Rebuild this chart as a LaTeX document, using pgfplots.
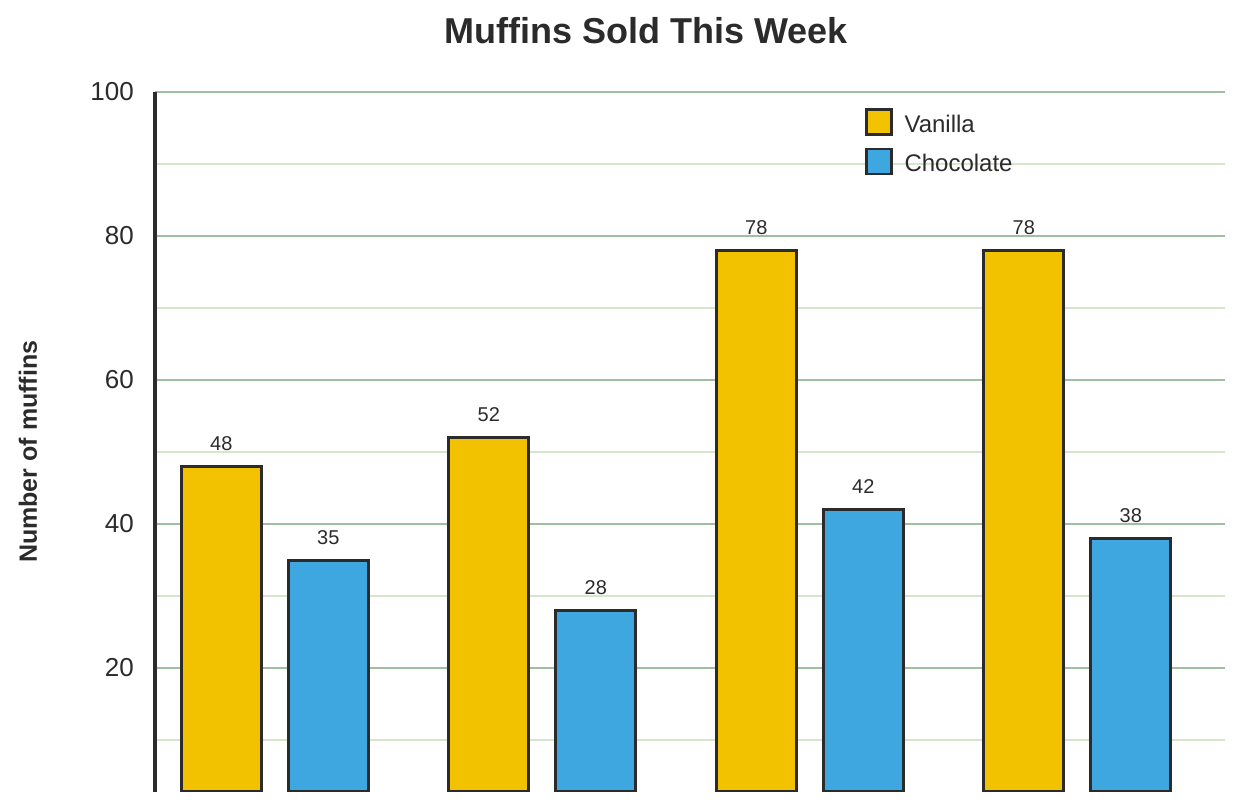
\documentclass[border=0pt]{standalone}
\usepackage{fontspec}
\setmainfont{Liberation Sans}
\usepackage{pgfplots}
\pgfplotsset{compat=1.18}
\definecolor{van}{HTML}{F2C200}
\definecolor{choc}{HTML}{3FA7DF}
\definecolor{edge}{HTML}{2B2B2B}
\definecolor{txt}{HTML}{2B2B2B}
\definecolor{majg}{HTML}{9FC09F}
\definecolor{ming}{HTML}{D4E7CD}
\begin{document}
\begin{tikzpicture}
\useasboundingbox (0,0) rectangle (1243pt,810pt);
\begin{axis}[
  at={(155pt,18pt)}, anchor=south west,
  scale only axis, width=1070pt, height=700pt,
  xmin=-0.448, xmax=3.552, ymin=2.78, ymax=100,
  axis y line=left, axis x line=none,
  y axis line style={-, line width=4pt, draw=edge},
  ytick={20,40,60,80,100}, minor ytick={10,30,50,70,90},
  ymajorgrids, yminorgrids,
  major grid style={draw=majg, line width=2.5pt},
  minor grid style={draw=ming, line width=2pt},
  major tick length=0pt, minor tick length=0pt,
  yticklabel style={font=\fontsize{26}{30}\selectfont, text=txt, inner sep=0pt, anchor=east, xshift=-21pt},
  /pgf/number format/assume math mode=true,
  ylabel={Number of muffins},
  every axis y label/.style={font=\bfseries\fontsize{25}{30}\selectfont, text=txt, at={(rel axis cs:-0.1187,0.486)}, anchor=center, rotate=90},
  title={Muffins Sold This Week},
  every axis title/.style={font=\bfseries\fontsize{36}{40}\selectfont, text=txt, at={(rel axis cs:0.4589,1)}, anchor=base, yshift=48pt},
  ybar, bar width=0.2985,
  nodes near coords,
  nodes near coords style={font=\fontsize{20}{24}\selectfont, text=txt, anchor=base, yshift=16pt},
  legend style={at={(rel axis cs:0.6636,0.977)}, anchor=north west, draw=none, fill=none, inner sep=0pt, outer sep=0pt, row sep=12pt, column sep=12pt, font=\fontsize{24}{28}\selectfont, text=txt, nodes={inner sep=0pt}},
  legend cell align=left,
]
\addplot[fill=van, draw=edge, line width=3pt, bar shift=-0.2,
  legend image code/.code={\draw[fill=van,draw=edge,line width=2.5pt] (0pt,-10pt) rectangle (25pt,15pt);}]
  coordinates {(0,48) (1,52) (2,78) (3,78)};
\addlegendentry{Vanilla}
\addplot[fill=choc, draw=edge, line width=3pt, bar shift=0.2,
  legend image code/.code={\draw[fill=choc,draw=edge,line width=2.5pt] (0pt,-10pt) rectangle (25pt,15pt);}]
  coordinates {(0,35) (1,28) (2,42) (3,38)};
\addlegendentry{Chocolate}
\end{axis}
\end{tikzpicture}
\end{document}
